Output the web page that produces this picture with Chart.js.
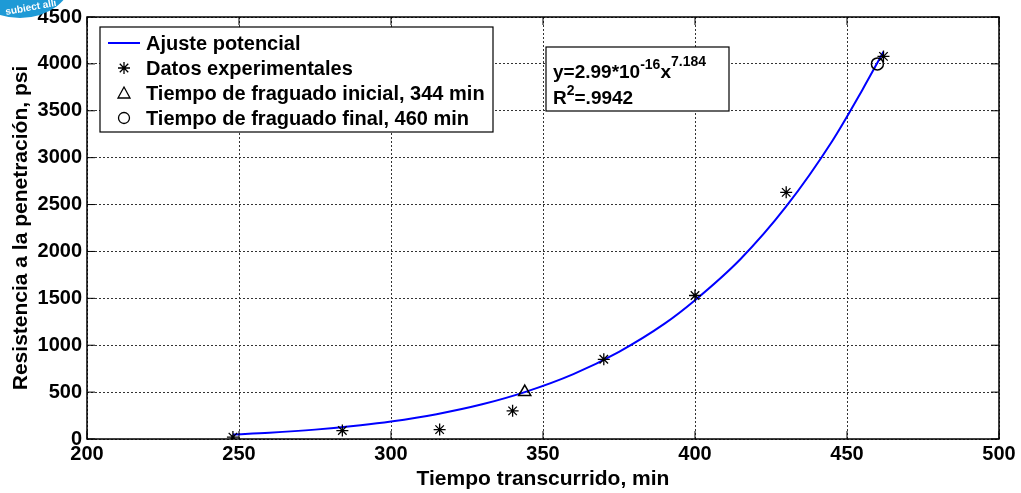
<!DOCTYPE html>
<html>
<head>
<meta charset="utf-8">
<script src="https://cdn.jsdelivr.net/npm/chart.js@4/dist/chart.umd.min.js"></script>
<style>
  html, body { margin: 0; padding: 0; background: #fff; }
</style>
</head>
<body>
<canvas id="chart" width="1021" height="493"></canvas>
<script>
// power fit curve
const fitX = [248, 260, 275, 290, 300, 315, 330, 344, 360, 375, 390, 400, 415, 430, 445, 455, 462];
const fitY = [48, 67, 100, 147, 187, 265, 370, 500, 692, 930, 1230, 1480, 1920, 2480, 3170, 3720, 4130];

// experimental points
const expX = [248, 284, 316, 340, 370, 400, 430, 462];
const expY = [20, 90, 100, 300, 850, 1530, 2630, 4080];

const initialSet = [{ x: 344, y: 500 }];
const finalSet = [{ x: 460, y: 4000 }];

const legendLabels = [
  'Ajuste potencial',
  'Datos experimentales',
  'Tiempo de fraguado inicial, 344 min',
  'Tiempo de fraguado final, 460 min'
];

const FONT = '"Liberation Sans", Arial, sans-serif';

const framePlugin = {
  id: 'frame',
  afterDraw(chart) {
    const ctx = chart.ctx;
    const a = chart.chartArea;
    const xs = chart.scales.x, ys = chart.scales.y;
    ctx.save();

    // axes frame
    ctx.strokeStyle = '#000';
    ctx.lineWidth = 1.5;
    ctx.strokeRect(a.left, a.top, a.right - a.left, a.bottom - a.top);

    // inward ticks
    ctx.lineWidth = 1;
    xs.ticks.forEach(t => {
      const px = xs.getPixelForValue(t.value);
      ctx.beginPath();
      ctx.moveTo(px, a.bottom); ctx.lineTo(px, a.bottom - 8);
      ctx.moveTo(px, a.top); ctx.lineTo(px, a.top + 8);
      ctx.stroke();
    });
    ys.ticks.forEach(t => {
      const py = ys.getPixelForValue(t.value);
      ctx.beginPath();
      ctx.moveTo(a.left, py); ctx.lineTo(a.left + 8, py);
      ctx.moveTo(a.right, py); ctx.lineTo(a.right - 8, py);
      ctx.stroke();
    });

    // legend box
    const lx = 100, ly = 27, lw = 393, lh = 105;
    ctx.fillStyle = '#fff';
    ctx.fillRect(lx, ly, lw, lh);
    ctx.strokeStyle = '#000';
    ctx.lineWidth = 1.2;
    ctx.strokeRect(lx, ly, lw, lh);
    ctx.font = 'bold 20px ' + FONT;
    ctx.textBaseline = 'middle';
    ctx.fillStyle = '#000';
    legendLabels.forEach((lab, i) => {
      const y = ly + 16 + i * 25;
      const cx = 124;
      ctx.strokeStyle = '#000';
      ctx.lineWidth = 1.3;
      if (i === 0) {
        ctx.strokeStyle = '#0000ff';
        ctx.lineWidth = 2;
        ctx.beginPath(); ctx.moveTo(108, y); ctx.lineTo(140, y); ctx.stroke();
      } else if (i === 1) {
        ctx.beginPath();
        for (let k = 0; k < 4; k++) {
          const ang = k * Math.PI / 4;
          ctx.moveTo(cx - 6 * Math.cos(ang), y - 6 * Math.sin(ang));
          ctx.lineTo(cx + 6 * Math.cos(ang), y + 6 * Math.sin(ang));
        }
        ctx.stroke();
      } else if (i === 2) {
        ctx.beginPath();
        ctx.moveTo(cx, y - 6); ctx.lineTo(cx + 6, y + 5); ctx.lineTo(cx - 6, y + 5); ctx.closePath();
        ctx.stroke();
      } else {
        ctx.beginPath(); ctx.arc(cx, y, 5.5, 0, Math.PI * 2); ctx.stroke();
      }
      ctx.fillText(lab, 146, y + 1);
    });

    // equation box
    const bx = 546, by = 47, bw = 183, bh = 64;
    ctx.fillStyle = '#fff';
    ctx.fillRect(bx, by, bw, bh);
    ctx.strokeStyle = '#000';
    ctx.lineWidth = 1.2;
    ctx.strokeRect(bx, by, bw, bh);
    ctx.fillStyle = '#000';
    ctx.textBaseline = 'alphabetic';
    let x = 553;
    const parts = [
      ['y=2.99*10', 19, 78],
      ['-16', 14, 69],
      ['x', 19, 78],
      ['7.184', 14, 66]
    ];
    parts.forEach(p => {
      ctx.font = 'bold ' + p[1] + 'px ' + FONT;
      ctx.fillText(p[0], x, p[2]);
      x += ctx.measureText(p[0]).width;
    });
    x = 553;
    [['R', 19, 104], ['2', 14, 95], ['=.9942', 19, 104]].forEach(p => {
      ctx.font = 'bold ' + p[1] + 'px ' + FONT;
      ctx.fillText(p[0], x, p[2]);
      x += ctx.measureText(p[0]).width;
    });

    // watermark badge in the corner
    ctx.beginPath();
    ctx.ellipse(20, -22, 52, 40, 0, 0, Math.PI * 2);
    ctx.fillStyle = '#1e9ad6';
    ctx.fill();
    ctx.font = 'bold 10px ' + FONT;
    ctx.fillStyle = '#fff';
    ctx.save();
    ctx.translate(6, 15);
    ctx.rotate(-0.18);
    ctx.fillText('subiect alli', 0, 0);
    ctx.restore();

    ctx.restore();
  }
};

const tickFont = { family: FONT, size: 20, weight: 'bold' };
const titleFont = { family: FONT, size: 21, weight: 'bold' };

new Chart(document.getElementById('chart').getContext('2d'), {
  type: 'scatter',
  data: {
    datasets: [
      {
        label: legendLabels[0],
        data: fitX.map((v, i) => ({ x: v, y: fitY[i] })),
        showLine: true,
        borderColor: '#0000ff',
        borderWidth: 2,
        pointRadius: 0,
        cubicInterpolationMode: 'monotone',
        order: 3
      },
      {
        label: legendLabels[1],
        data: expX.map((v, i) => ({ x: v, y: expY[i] })),
        pointStyle: 'star',
        pointRadius: 6,
        borderColor: '#000',
        backgroundColor: '#000',
        borderWidth: 1.3,
        order: 2
      },
      {
        label: legendLabels[2],
        data: initialSet,
        pointStyle: 'triangle',
        pointRadius: 7,
        borderColor: '#000',
        backgroundColor: 'rgba(0,0,0,0)',
        borderWidth: 1.5,
        order: 1
      },
      {
        label: legendLabels[3],
        data: finalSet,
        pointStyle: 'circle',
        pointRadius: 6,
        borderColor: '#000',
        backgroundColor: 'rgba(0,0,0,0)',
        borderWidth: 1.5,
        order: 0
      }
    ]
  },
  options: {
    responsive: false,
    animation: false,
    devicePixelRatio: 1,
    layout: { padding: { top: 15, right: 22, bottom: 1, left: 9 } },
    plugins: {
      legend: { display: false },
      tooltip: { enabled: false }
    },
    scales: {
      x: {
        type: 'linear',
        min: 200, max: 500,
        afterFit: s => { s.height = 53; },
        ticks: {
          stepSize: 50,
          color: '#000',
          padding: 3,
          font: tickFont,
          callback: v => String(v)
        },
        grid: { color: '#333', lineWidth: 1, drawTicks: false },
        border: { display: false, dash: [2, 2] },
        title: {
          display: true,
          text: 'Tiempo transcurrido, min',
          color: '#000',
          padding: 0,
          font: titleFont
        }
      },
      y: {
        type: 'linear',
        min: 0, max: 4500,
        afterFit: s => { s.width = 78; },
        ticks: {
          stepSize: 500,
          color: '#000',
          padding: 5,
          font: tickFont,
          callback: v => String(v)
        },
        grid: { color: '#333', lineWidth: 1, drawTicks: false },
        border: { display: false, dash: [2, 2] },
        title: {
          display: true,
          text: 'Resistencia a la penetración, psi',
          color: '#000',
          padding: 0,
          font: titleFont
        }
      }
    }
  },
  plugins: [framePlugin]
});
</script>
</body>
</html>
